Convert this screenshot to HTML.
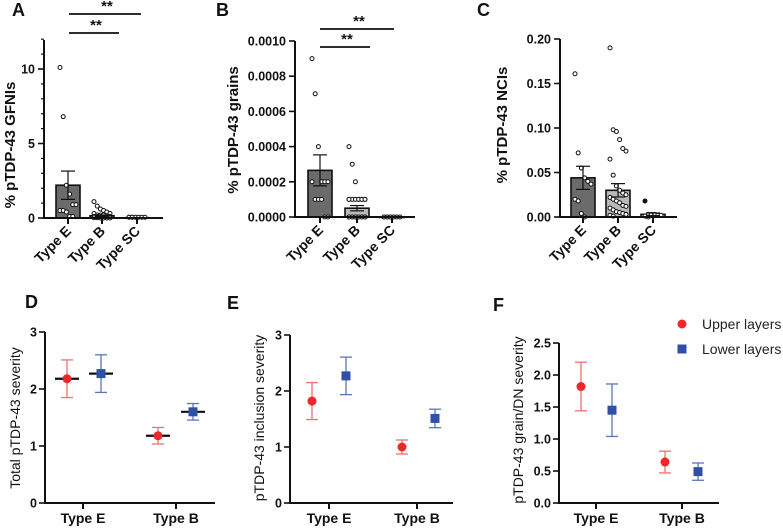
<!DOCTYPE html>
<html><head><meta charset="utf-8">
<style>
html,body{margin:0;padding:0;background:#fff;}
svg{display:block;font-family:"Liberation Sans",Arial,sans-serif;}
.tk{font-size:12.5px;font-weight:bold;fill:#111;}
.ttl{font-size:15px;font-weight:bold;fill:#111;}
.xl{font-size:14px;font-weight:bold;fill:#111;}
.ttl2{font-size:14px;fill:#111;}
.pl{font-size:18px;font-weight:bold;fill:#111;}
</style></head>
<body>
<svg id="fig" width="783" height="528" viewBox="0 0 783 528"></svg>
<script>
// ---- data: top bar charts ----
const barCats = ["Type E","Type B","Type SC"];
const aMeans = [2.2, 0.15, 0.02];
const aSem = [0.95, 0.05, 0.01];
const aE = [10.1, 6.8, 2.2, 1.6, 0.9, 0.9, 0.5, 0.5, 0.4, 0.1, 0.1];
const aB = [1.1, 0.8, 0.6, 0.5, 0.4, 0.3, 0.3, 0.2, 0.2, 0.2, 0.15, 0.1, 0.1, 0.1, 0.1, 0.05, 0.05, 0.05, 0.02, 0.02, 0, 0, 0, 0];
const aSC = [0.05, 0.05, 0.05, 0.05, 0.05, 0.05, 0.05, 0.05];
const aTicks = [0, 5, 10];
const bMeans = [0.000265, 0.00005, 0];
const bSem = [0.000088, 0.000015, 0];
const bE = [0.0009, 0.0007, 0.0004, 0.0002, 0.0002, 0.0002, 0.0002, 0.0001, 0.0001, 0.0001, 0, 0];
const bB = [0.0004, 0.0003, 0.0002, 0.0001, 0.0001, 0.0001, 0.0001, 0.0001, 0.0001, 0.0001, 0.0001, 0.0001, 0.0001, 0, 0, 0, 0, 0, 0, 0, 0, 0, 0, 0, 0];
const bSC = [0, 0, 0, 0, 0, 0, 0, 0, 0, 0];
const bTicks = [0, 0.0002, 0.0004, 0.0006, 0.0008, 0.001];
const bTickLabels = ["0.0000","0.0002","0.0004","0.0006","0.0008","0.0010"];
const cMeans = [0.044, 0.030, 0.003];
const cSem = [0.013, 0.0075, 0.0015];
const cE = [0.161, 0.072, 0.055, 0.044, 0.040, 0.037, 0.020, 0.018, 0.004, 0];
const cB = [0.19, 0.098, 0.096, 0.087, 0.077, 0.074, 0.065, 0.047, 0.035, 0.030, 0.027, 0.025, 0.022, 0.020, 0.018, 0.016, 0.013, 0.012, 0.010, 0.008, 0.006, 0.005, 0.004, 0.003, 0.002, 0.001];
const cSC = [0.018, 0.003, 0.003, 0.003, 0.002, 0.002, 0.001, 0];
const cTicks = [0, 0.05, 0.1, 0.15, 0.2];
const cTickLabels = ["0.00","0.05","0.10","0.15","0.20"];
// ---- data: bottom point charts ----
const ptCats = ["Type E","Type B"];
const dUpper = [2.18, 1.18], dUpperErr = [0.33, 0.145];
const dLower = [2.27, 1.60], dLowerErr = [0.33, 0.145];
const eUpper = [1.82, 1.00], eUpperErr = [0.33, 0.125];
const eLower = [2.27, 1.51], eLowerErr = [0.335, 0.165];
const fUpper = [1.82, 0.64], fUpperErr = [0.38, 0.17];
const fLower = [1.45, 0.49], fLowerErr = [0.41, 0.135];
const dTicks = [0,1,2,3];
const fTicks = [0,0.5,1,1.5,2,2.5];
const fTickLabels = ["0.0","0.5","1.0","1.5","2.0","2.5"];

const NS="http://www.w3.org/2000/svg";
const svg=document.getElementById('fig');
function el(tag,attrs,parent){const e=document.createElementNS(NS,tag);for(const k in attrs)e.setAttribute(k,attrs[k]);(parent||svg).appendChild(e);return e;}
function txt(s,attrs,parent){const e=el('text',attrs,parent);e.textContent=s;return e;}

function barPanel(o){
  const g=el('g',{});
  
  
  const y=v=>o.y0-(v-o.ymin)/(o.ymax-o.ymin)*(o.y0-o.yTop);
  const fills=["#6b6b6b","#b9b9b9","#e8e8e8"];
  const bw=24;
  o.means.forEach((m,i)=>{
    const cx=o.xs[i];
    const r=el('rect',{x:cx-bw/2,y:y(m),width:bw,height:Math.max(o.y0-y(m),0.5),fill:fills[i],stroke:'#111','stroke-width':1.6},g);
    
    
    const pts=o.pts[i];
    pts.forEach((v,j)=>{
      const off=((j%6)-2.5)*3.2;
      const c=el('circle',{cx:cx+off,cy:y(v),r:2,fill:(o.filled&&i==2&&j==0)?'#111':'#fff',stroke:'#111','stroke-width':1},g);
      
      
    });
    if(o.sem[i]>0){
      el('line',{x1:cx,x2:cx,y1:y(m+o.sem[i]),y2:y(m-o.sem[i]),stroke:'#111','stroke-width':1.2},g);
      el('line',{x1:cx-7,x2:cx+7,y1:y(m+o.sem[i]),y2:y(m+o.sem[i]),stroke:'#111','stroke-width':1.2},g);
      el('line',{x1:cx-7,x2:cx+7,y1:y(m-o.sem[i]),y2:y(m-o.sem[i]),stroke:'#111','stroke-width':1.2},g);
    }
    el('line',{x1:cx,x2:cx,y1:o.y0,y2:o.y0+6,stroke:'#111','stroke-width':2},g);
    const t=txt(barCats[i],{x:cx+4,y:o.y0+14,'text-anchor':'end',class:'xl',transform:`rotate(-45 ${cx+4} ${o.y0+14})`},g);
    
    
  });
  el('line',{x1:o.ax,x2:o.ax,y1:o.yTop-(o.extraTop||0),y2:o.y0+1,stroke:'#111','stroke-width':2},g);
  el('line',{x1:o.ax-1,x2:o.xEnd,y1:o.y0,y2:o.y0,stroke:'#111','stroke-width':2},g);
  o.ticks.forEach((v,i)=>{
    el('line',{x1:o.ax-6,x2:o.ax,y1:y(v),y2:y(v),stroke:'#111','stroke-width':1.6},g);
    const t=txt(o.tickLabels?o.tickLabels[i]:String(v),{x:o.ax-9,y:y(v)+4.5,'text-anchor':'end',class:'tk'},g);
    
    
  });
  (o.minor||[]).forEach(v=>el('line',{x1:o.ax-3,x2:o.ax,y1:y(v),y2:y(v),stroke:'#111','stroke-width':1.2},g));
  const yt=txt(o.title,{x:0,y:0,'text-anchor':'middle',class:'ttl',transform:`translate(${o.titleX} ${o.titleY}) rotate(-90)`},g);
  
  
  o.sig.forEach(s=>{
    el('line',{x1:s[0],x2:s[1],y1:s[2],y2:s[2],stroke:'#111','stroke-width':1.8},g);
    const st=txt('**',{x:(s[0]+s[1])/2+2,y:s[2]-3,'text-anchor':'middle',class:'ttl'},g);
    
    
  });
}

barPanel({name:'panel-a',ax:44,y0:218,yTop:69,ymin:0,ymax:10,extraTop:29,xEnd:163,xs:[68,102,137],means:aMeans,sem:aSem,pts:[aE,aB,aSC],ticks:aTicks,minor:[1,2,3,4,6,7,8,9,11,12],title:'% pTDP-43 GFNIs',titleX:15,titleY:145,sig:[[69,141,14],[69,119,33]]});
barPanel({name:'panel-b',ax:295,y0:217,yTop:41,ymin:0,ymax:0.001,xEnd:415,xs:[320,357,392],means:bMeans,sem:bSem,pts:[bE,bB,bSC],ticks:bTicks,tickLabels:bTickLabels,title:'% pTDP-43 grains',titleX:238,titleY:130,sig:[[320,394,29],[320,370,47]]});
barPanel({name:'panel-c',ax:560,y0:217,yTop:39,ymin:0,ymax:0.2,xEnd:677,xs:[583,618,653],means:cMeans,sem:cSem,pts:[cE,cB,cSC],ticks:cTicks,tickLabels:cTickLabels,filled:true,title:'% pTDP-43 NCIs',titleX:507,titleY:125,sig:[]});

function ptPanel(o){
  const g=el('g',{});
  
  
  const y=v=>o.y0-(v-o.ymin)/(o.ymax-o.ymin)*(o.y0-o.yTop);
  el('line',{x1:o.ax,x2:o.ax,y1:o.yTop,y2:o.y0+1,stroke:'#111','stroke-width':2},g);
  el('line',{x1:o.ax-1,x2:o.xEnd,y1:o.y0,y2:o.y0,stroke:'#111','stroke-width':2},g);
  o.ticks.forEach((v,i)=>{
    el('line',{x1:o.ax-6,x2:o.ax,y1:y(v),y2:y(v),stroke:'#111','stroke-width':1.6},g);
    const t=txt(o.tickLabels?o.tickLabels[i]:String(v),{x:o.ax-8,y:y(v)+4.5,'text-anchor':'end',class:'tk'},g);
    
    
  });
  ptCats.forEach((c,i)=>{
    el('line',{x1:o.tx[i],x2:o.tx[i],y1:o.y0,y2:o.y0+6,stroke:'#111','stroke-width':2},g);
    const t=txt(c,{x:o.tx[i],y:o.y0+20,'text-anchor':'middle',class:'xl'},g);
    
    
  });
  const series=[[o.up,o.upE,'#f0262a','#f07070',o.ux,'circle'],[o.lo,o.loE,'#3050a8','#5a74c0',o.lx,'square']];
  series.forEach(s=>{
    s[0].forEach((v,i)=>{
      const cx=s[4][i];
      el('line',{x1:cx,x2:cx,y1:y(v+s[1][i]),y2:y(v-s[1][i]),stroke:s[3],'stroke-width':1.3},g);
      el('line',{x1:cx-6,x2:cx+6,y1:y(v+s[1][i]),y2:y(v+s[1][i]),stroke:s[3],'stroke-width':1.3},g);
      el('line',{x1:cx-6,x2:cx+6,y1:y(v-s[1][i]),y2:y(v-s[1][i]),stroke:s[3],'stroke-width':1.3},g);
      if(o.meanLine) el('line',{x1:cx-12,x2:cx+12,y1:y(v),y2:y(v),stroke:'#111','stroke-width':2.2},g);
      let m;
      if(s[5]=='circle') m=el('circle',{cx:cx,cy:y(v),r:4.5,fill:s[2]},g);
      else m=el('rect',{x:cx-4.5,y:y(v)-4.5,width:9,height:9,fill:s[2]},g);
      
      
    });
  });
  const yt=txt(o.title,{x:0,y:0,'text-anchor':'middle',class:'ttl2',transform:`translate(${o.titleX} ${o.titleY}) rotate(-90)`},g);
  
  
}
ptPanel({name:'panel-d',ax:45,y0:503,yTop:332,ymin:0,ymax:3,xEnd:215,tx:[83,176],ux:[67,158],lx:[101,193],up:dUpper,upE:dUpperErr,lo:dLower,loE:dLowerErr,ticks:dTicks,meanLine:true,title:'Total pTDP-43 severity',titleX:20,titleY:418});
ptPanel({name:'panel-e',ax:290,y0:503,yTop:335,ymin:0,ymax:3,xEnd:453,tx:[329,417],ux:[312,402],lx:[346,435],up:eUpper,upE:eUpperErr,lo:eLower,loE:eLowerErr,ticks:dTicks,title:'pTDP-43 inclusion severity',titleX:264,titleY:418});
ptPanel({name:'panel-f',ax:559,y0:503,yTop:343,ymin:0,ymax:2.5,xEnd:719,tx:[596,682],ux:[581,665],lx:[612,698],up:fUpper,upE:fUpperErr,lo:fLower,loE:fLowerErr,ticks:fTicks,tickLabels:fTickLabels,title:'pTDP-43 grain/DN severity',titleX:523,titleY:420});

// legend
const lg=el('g',{});


el('circle',{cx:682,cy:324,r:4.5,fill:'#f0262a'},lg);
const l1=txt('Upper layers',{x:702,y:329,style:'font-size:14px;fill:#222'},lg);


el('rect',{x:677.5,y:344.5,width:9,height:9,fill:'#3050a8'},lg);
const l2=txt('Lower layers',{x:702,y:354,style:'font-size:14px;fill:#222'},lg);



// panel letters
[['A',12,16],['B',216,16],['C',477,16],['D',25,308],['E',227,309],['F',493,311]].forEach(p=>{
  const t=txt(p[0],{x:p[1],y:p[2],class:'pl'});
  
  
});
</script>
</body></html>
